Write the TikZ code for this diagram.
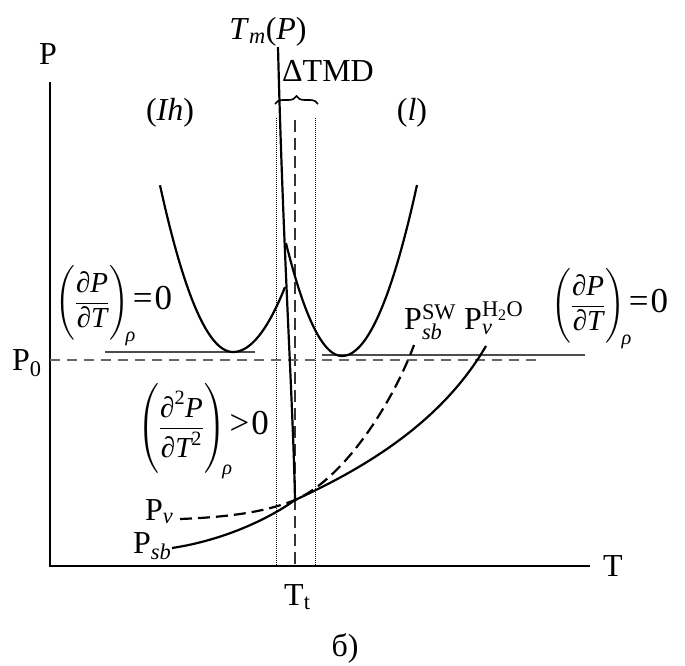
\documentclass[tikz,border=0pt]{standalone}
\usepackage{amsmath}
\usepackage{fontspec}
\setmainfont{Liberation Serif}
\setmathrm{Liberation Serif}
\usetikzlibrary{decorations.pathreplacing}
\newcommand{\ti}[1]{\text{\itshape #1}}
\newcommand{\frc}[4]{\left(\rule[-#3]{0pt}{#4}\dfrac{#1}{#2}\right)}
\newcommand{\rel}[1]{{\fontsize{35}{38}\selectfont\kern-3pt#1\kern2pt0}}
\begin{document}
\begin{tikzpicture}[x=1pt,y=-1pt,
  curve/.style={line width=2.2pt, black},
  axis/.style={line width=2.2pt, black},
  thinline/.style={line width=1.4pt, black!70},
  guide/.style={line width=1pt, black, densely dotted},
  dashguide/.style={line width=1.2pt, black!80, dash pattern=on 12pt off 6pt},
  lbl/.style={font=\fontsize{32}{36}\selectfont, inner sep=0pt},
  mlbl/.style={font=\fontsize{29}{34}\selectfont, inner sep=0pt}]
\useasboundingbox (0,0) rectangle (685,666);
% axes
\draw[axis] (50,82) -- (50,566) -- (590,566);
\node[lbl] (Plab) at (48,54) {P};
\node[lbl] (Tlab) at (613,566) {T};
\node[lbl, anchor=base west] (P0) at (12,370) {P$_{\text{0}}$};
% guides
\draw[guide] (276,118) -- (276,566);
\draw[guide] (315,118) -- (315,566);
\draw[dashguide] (295,120) -- (295,566);
\draw[decorate, decoration={brace, amplitude=8pt}, line width=1.6pt] (275,104) -- (318,104);
% horizontal lines
\draw[line width=1.2pt, black!60, dash pattern=on 10pt off 7pt] (50,360) -- (540,360);
\draw[thinline] (105,352) -- (255,352);
\draw[thinline] (322,355) -- (585,355);
% parabolas
\draw[curve] plot[domain=160:233, samples=40] (\x,{352-0.0313*(\x-233)^2})
  -- plot[domain=233:285, samples=30] (\x,{352-0.024*(\x-233)^2});
\draw[curve] plot[domain=286:342, samples=30] (\x,{356-0.036*(\x-342)^2})
  -- plot[domain=342:417, samples=40] (\x,{356-0.0304*(\x-342)^2});
% melting line
\draw[curve] (278,47) .. controls (283,250) and (293,400) .. (295,500);
% vapour / sublimation curves
\draw[curve, dash pattern=on 12pt off 6pt] (180,519) .. controls (230,517) and (265,512) .. (295,500)
  .. controls (345,478) and (393,402) .. (414,345);
\draw[curve] (172,548) .. controls (225,540) and (270,518) .. (295,500)
  .. controls (360,470) and (440,425) .. (486,346);
% labels
\node[lbl] (Tm) at (268,32) {\textit{T}$_{\ti{m}}$(\textit{P})};
\node[lbl] (dTMD) at (328,71) {ΔTMD};
\node[lbl] (Ih) at (170,113) {(\textit{Ih})};
\node[lbl] (liq) at (412,113) {(\textit{l})};
\node[mlbl, anchor=west] (dl) at (55,305) {$\frc{\ti{∂P}}{\ti{∂T}}{31pt}{76pt}_{\!\ti{ρ}}$\rel{=}};
\node[mlbl, anchor=west] (dr) at (551,308) {$\frc{\ti{∂P}}{\ti{∂T}}{31pt}{76pt}_{\!\ti{ρ}}$\rel{=}};
\node[mlbl, anchor=west] (d2) at (137,430) {$\frc{\ti{∂}^{\text{2}}\ti{P}}{\ti{∂T}^{\text{2}}}{39pt}{92pt}_{\!\ti{ρ}}$\rel{>}};
\node[lbl, anchor=base west] (Psbsw) at (404,329) {P$_{\ti{sb}}^{\text{SW}}$};
\node[lbl, anchor=base west] (Pvh) at (464,329) {P$_{\ti{v}}^{\text{H}_{\text{2}}\text{O}}$};
\node[lbl, anchor=base west] (Pv) at (145,520) {P$_{\ti{v}}$};
\node[lbl, anchor=base west] (Psb) at (133,553) {P$_{\ti{sb}}$};
\node[lbl, anchor=base west] (Tt) at (284,605) {T$_{\text{t}}$};
\node[lbl] (b) at (345,648) {б)};
\end{tikzpicture}
\end{document}
